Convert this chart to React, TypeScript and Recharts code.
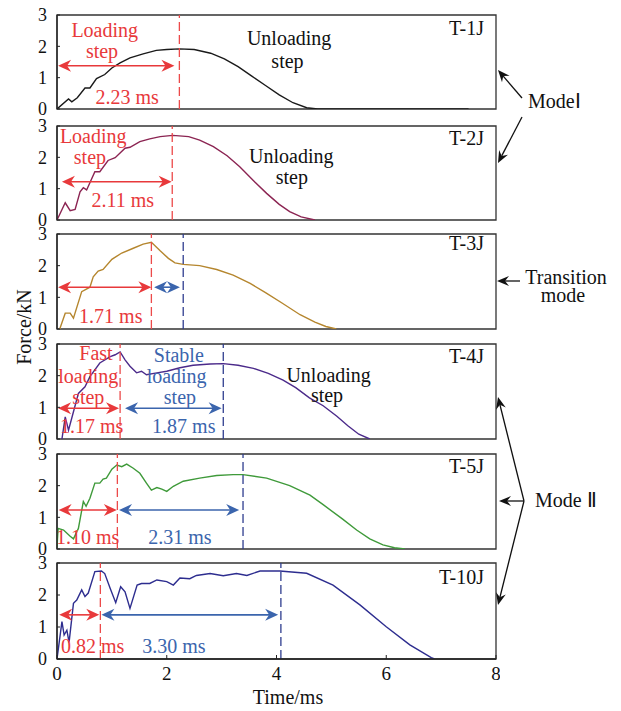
import React from "react";
import { LineChart, Line, XAxis, YAxis, ReferenceLine, ReferenceDot, ReferenceArea } from "recharts";

const FONT = '"Liberation Serif", "Times New Roman", serif';
const RED = "#e8393b";
const RED_DASH = "#ec4a4a";
const BLUE = "#3b65ad";
const NAVY = "#2f3d8f";
const INK = "#111";

const xTicks = [0, 2, 4, 6, 8];
const yTicks = [0, 1, 2, 3];

// T-1J
const timeT1J = [0, 0.21, 0.27, 0.37, 0.51, 0.6, 0.72, 0.87, 1.0, 1.15, 1.33, 1.57, 1.81, 2.0, 2.23, 2.5, 2.8, 3.05, 3.3, 3.55, 3.8, 4.05, 4.3, 4.55, 4.75, 5.5, 6.5, 7.5];
const forceT1J = [0, 0.32, 0.23, 0.36, 0.67, 0.67, 0.97, 1.1, 1.31, 1.47, 1.63, 1.76, 1.87, 1.9, 1.92, 1.9, 1.78, 1.6, 1.35, 1.05, 0.75, 0.45, 0.2, 0.04, 0, 0, 0, 0];

// T-2J
const timeT2J = [0, 0.15, 0.24, 0.33, 0.42, 0.48, 0.54, 0.69, 0.78, 0.93, 1.06, 1.24, 1.33, 1.51, 1.69, 1.88, 2.11, 2.4, 2.6, 2.85, 3.1, 3.33, 3.6, 3.82, 4.05, 4.24, 4.45, 4.7];
const forceT2J = [0, 0.55, 0.3, 0.34, 0.9, 1.03, 0.96, 1.54, 1.54, 1.9, 1.99, 2.29, 2.32, 2.5, 2.59, 2.66, 2.7, 2.66, 2.55, 2.34, 2.05, 1.7, 1.22, 0.85, 0.5, 0.27, 0.1, 0];

// T-3J
const timeT3J = [0.05, 0.15, 0.24, 0.3, 0.45, 0.6, 0.66, 0.75, 0.84, 1.0, 1.18, 1.39, 1.57, 1.72, 1.88, 2.03, 2.15, 2.3, 2.6, 2.91, 3.21, 3.52, 3.8, 4.1, 4.43, 4.7, 4.9, 5.09];
const forceT3J = [0, 0.5, 0.5, 0.34, 1.18, 1.32, 1.65, 1.83, 1.88, 2.2, 2.4, 2.55, 2.68, 2.74, 2.47, 2.23, 2.09, 2.04, 2.0, 1.88, 1.7, 1.44, 1.15, 0.82, 0.45, 0.22, 0.08, 0];

// T-4J
const timeT4J = [0.09, 0.15, 0.21, 0.3, 0.39, 0.51, 0.6, 0.78, 0.97, 1.06, 1.15, 1.24, 1.33, 1.45, 1.54, 1.63, 1.82, 2.0, 2.24, 2.48, 2.79, 3.03, 3.3, 3.58, 3.85, 4.12, 4.35, 4.6, 4.85, 5.1, 5.3, 5.5, 5.7];
const forceT4J = [0, 0.7, 0.28, 0.86, 1.44, 1.65, 1.97, 2.4, 2.6, 2.66, 2.75, 2.5, 2.3, 2.09, 2.14, 2.03, 2.09, 2.14, 2.25, 2.33, 2.37, 2.38, 2.33, 2.23, 2.07, 1.86, 1.62, 1.3, 1.05, 0.72, 0.42, 0.15, 0];

// T-5J
const timeT5J = [0, 0.02, 0.12, 0.24, 0.3, 0.39, 0.48, 0.53, 0.6, 0.69, 0.78, 0.84, 0.9, 1.0, 1.09, 1.18, 1.27, 1.39, 1.51, 1.63, 1.72, 1.82, 1.91, 2.0, 2.12, 2.3, 2.6, 2.91, 3.21, 3.39, 3.82, 4.24, 4.61, 4.85, 5.2, 5.46, 5.7, 5.94, 6.15, 6.34];
const forceT5J = [0.05, 0.65, 0.6, 0.4, 0.32, 0.65, 1.5, 1.35, 1.6, 2.08, 2.08, 2.21, 2.24, 2.52, 2.65, 2.6, 2.68, 2.55, 2.39, 2.08, 1.86, 1.94, 1.89, 1.82, 1.98, 2.14, 2.24, 2.32, 2.35, 2.35, 2.24, 2.0, 1.7, 1.4, 0.95, 0.6, 0.32, 0.13, 0.04, 0];

// T-10J
const timeT10J = [0, 0.09, 0.13, 0.18, 0.22, 0.3, 0.36, 0.45, 0.51, 0.57, 0.69, 0.81, 0.87, 0.97, 1.07, 1.16, 1.24, 1.33, 1.46, 1.54, 1.69, 1.82, 2.0, 2.12, 2.24, 2.42, 2.54, 2.79, 3.03, 3.27, 3.46, 3.7, 4.06, 4.55, 5.03, 5.52, 6.0, 6.43, 6.82, 6.88];
const forceT10J = [0, 1.17, 0.75, 0.9, 0.52, 1.74, 1.84, 2.16, 1.95, 2.06, 2.73, 2.75, 2.67, 2.2, 1.76, 2.26, 2.1, 1.58, 2.31, 2.36, 2.36, 2.47, 2.42, 2.31, 2.53, 2.51, 2.61, 2.67, 2.6, 2.67, 2.61, 2.75, 2.75, 2.68, 2.31, 1.69, 1.01, 0.44, 0.04, 0];

type Note = { t: number; f: number; text: string; color: string; anchor?: "start" | "middle" | "end" };
type Arrow = { from: number; to: number; f: number; color: string };
type Dash = { t: number; color: string };

const panels: {
  name: string; color: string; time: number[]; force: number[]; top: number; bottom: number;
  dashes: Dash[]; arrows: Arrow[]; notes: Note[];
}[] = [
  {
    name: "T-1J", color: "#1a1a1a", time: timeT1J, force: forceT1J, top: 15, bottom: 109,
    dashes: [{ t: 2.23, color: RED_DASH }],
    arrows: [{ from: 0.02, to: 2.14, f: 1.38, color: RED }],
    notes: [
      { t: 0.87, f: 2.31, text: "Loading", color: RED },
      { t: 0.82, f: 1.63, text: "step", color: RED },
      { t: 1.28, f: 0.17, text: "2.23 ms", color: RED },
      { t: 4.23, f: 2.03, text: "Unloading", color: INK },
      { t: 4.2, f: 1.31, text: "step", color: INK },
      { t: 7.78, f: 2.37, text: "T-1J", color: INK, anchor: "end" },
    ],
  },
  {
    name: "T-2J", color: "#8b2452", time: timeT2J, force: forceT2J, top: 126, bottom: 220,
    dashes: [{ t: 2.1, color: RED_DASH }],
    arrows: [{ from: 0.09, to: 2.09, f: 1.22, color: RED }],
    notes: [
      { t: 0.66, f: 2.47, text: "Loading", color: RED },
      { t: 0.6, f: 1.79, text: "step", color: RED },
      { t: 1.2, f: 0.41, text: "2.11 ms", color: RED },
      { t: 4.27, f: 1.81, text: "Unloading", color: INK },
      { t: 4.28, f: 1.14, text: "step", color: INK },
      { t: 7.78, f: 2.4, text: "T-2J", color: INK, anchor: "end" },
    ],
  },
  {
    name: "T-3J", color: "#b5862e", time: timeT3J, force: forceT3J, top: 234, bottom: 329,
    dashes: [{ t: 1.72, color: RED_DASH }, { t: 2.3, color: NAVY }],
    arrows: [
      { from: 0.02, to: 1.72, f: 1.32, color: RED },
      { from: 1.77, to: 2.24, f: 1.32, color: BLUE },
    ],
    notes: [
      { t: 0.98, f: 0.18, text: "1.71 ms", color: RED },
      { t: 7.78, f: 2.49, text: "T-3J", color: INK, anchor: "end" },
    ],
  },
  {
    name: "T-4J", color: "#4b2a8a", time: timeT4J, force: forceT4J, top: 344, bottom: 439,
    dashes: [{ t: 1.15, color: RED_DASH }, { t: 3.03, color: NAVY }],
    arrows: [
      { from: 0.02, to: 1.13, f: 0.97, color: RED },
      { from: 1.24, to: 3.0, f: 0.97, color: BLUE },
    ],
    notes: [
      { t: 0.71, f: 2.49, text: "Fast", color: RED },
      { t: 0.57, f: 1.76, text: "loading", color: RED },
      { t: 0.57, f: 1.12, text: "step", color: RED },
      { t: 0.63, f: 0.18, text: "1.17 ms", color: RED },
      { t: 2.22, f: 2.44, text: "Stable", color: BLUE },
      { t: 2.18, f: 1.76, text: "loading", color: BLUE },
      { t: 2.24, f: 1.1, text: "step", color: BLUE },
      { t: 2.31, f: 0.18, text: "1.87 ms", color: BLUE },
      { t: 4.95, f: 1.81, text: "Unloading", color: INK },
      { t: 4.92, f: 1.18, text: "step", color: INK },
      { t: 7.78, f: 2.39, text: "T-4J", color: INK, anchor: "end" },
    ],
  },
  {
    name: "T-5J", color: "#3f9a3a", time: timeT5J, force: forceT5J, top: 454, bottom: 549,
    dashes: [{ t: 1.1, color: RED_DASH }, { t: 3.39, color: NAVY }],
    arrows: [
      { from: 0.03, to: 1.09, f: 1.23, color: RED },
      { from: 1.13, to: 3.32, f: 1.23, color: BLUE },
    ],
    notes: [
      { t: 0.56, f: 0.15, text: "1.10 ms", color: RED },
      { t: 2.24, f: 0.15, text: "2.31 ms", color: BLUE },
      { t: 7.78, f: 2.39, text: "T-5J", color: INK, anchor: "end" },
    ],
  },
  {
    name: "T-10J", color: "#2d2d8f", time: timeT10J, force: forceT10J, top: 563, bottom: 659,
    dashes: [{ t: 0.79, color: RED_DASH }, { t: 4.08, color: NAVY }],
    arrows: [
      { from: 0.04, to: 0.77, f: 1.38, color: RED },
      { from: 0.81, to: 4.03, f: 1.38, color: BLUE },
    ],
    notes: [
      { t: 0.65, f: 0.18, text: "0.82 ms", color: RED },
      { t: 2.13, f: 0.18, text: "3.30 ms", color: BLUE },
      { t: 7.78, f: 2.33, text: "T-10J", color: INK, anchor: "end" },
    ],
  },
];

const Head = ({ x, y, angle, color, len = 13, half = 6, notch = 9 }: any) => {
  const c = Math.cos(angle);
  const s = Math.sin(angle);
  const bx = x - c * len;
  const by = y - s * len;
  const nx = x - c * notch;
  const ny = y - s * notch;
  const px = -s * half;
  const py = c * half;
  return <path d={`M${x},${y}L${bx + px},${by + py}L${nx},${ny}L${bx - px},${by - py}Z`} fill={color} />;
};

const doubleArrow = (color: string) => (props: any) => {
  const { x1, y1, x2, y2 } = props;
  return (
    <g>
      <line x1={x1 + 8} y1={y1} x2={x2 - 8} y2={y2} stroke={color} strokeWidth={1.6} />
      <Head x={x2} y={y2} angle={0} color={color} />
      <Head x={x1} y={y1} angle={Math.PI} color={color} />
    </g>
  );
};

const noteShape = (n: Note) => (props: any) => (
  <text x={props.cx} y={props.cy} textAnchor={n.anchor || "middle"} fill={n.color} fontSize={20} fontFamily={FONT}>
    {n.text}
  </text>
);

const Pointer = ({ x1, y1, x2, y2 }: { x1: number; y1: number; x2: number; y2: number }) => {
  const a = Math.atan2(y2 - y1, x2 - x1);
  return (
    <g>
      <line x1={x1} y1={y1} x2={x2 - Math.cos(a) * 8} y2={y2 - Math.sin(a) * 8} stroke={INK} strokeWidth={1.3} />
      <Head x={x2} y={y2} angle={a} color={INK} len={12} half={5} notch={8} />
    </g>
  );
};

const CHART_W = 500;
const PAD = 12;

export default function App() {
  return (
    <div style={{ position: "absolute", left: 0, top: 0, width: 621, height: 711, background: "#fff" }}>
      {panels.map((p, i) => {
        const last = i === panels.length - 1;
        const data = p.time.map((t, k) => ({ t, f: p.force[k] }));
        const plotH = p.bottom - p.top;
        const height = plotH + PAD + (last ? 30 : PAD);
        return (
          <div key={p.name} style={{ position: "absolute", left: 0, top: p.top - PAD }}>
            <LineChart width={CHART_W} height={height} data={data} margin={{ top: PAD, right: CHART_W - 496, bottom: last ? 0 : PAD, left: 0 }}>
              <XAxis
                type="number"
                dataKey="t"
                domain={[0, 8]}
                ticks={xTicks}
                interval={0}
                allowDataOverflow
                height={last ? 30 : 0}
                tickSize={-4}
                tickMargin={12}
                axisLine={{ stroke: "#222", strokeWidth: 1.3 }}
                tickLine={{ stroke: "#222" }}
                tickFormatter={last ? (v: number) => String(v) : () => ""}
                tick={{ fill: INK, fontSize: 19, fontFamily: FONT }}
              />
              <YAxis
                type="number"
                domain={[0, 3]}
                ticks={yTicks}
                interval={0}
                allowDataOverflow
                width={57}
                tickSize={-3}
                tickMargin={13}
                axisLine={{ stroke: "#222", strokeWidth: 1.3 }}
                tickLine={{ stroke: "#222" }}
                tick={{ fill: INK, fontSize: 18, fontFamily: FONT }}
              />
              <ReferenceArea x1={0} x2={8} y1={0} y2={3} fill="none" stroke="#333" strokeWidth={1.3} />
              <Line type="linear" dataKey="f" stroke={p.color} strokeWidth={1.4} dot={false} isAnimationActive={false} />
              {p.dashes.map((d, k) => (
                <ReferenceLine key={`d${k}`} x={d.t} stroke={d.color} strokeWidth={1.3} strokeDasharray="9 4" />
              ))}
              {p.arrows.map((a, k) => (
                <ReferenceLine
                  key={`a${k}`}
                  segment={[{ x: a.from, y: a.f }, { x: a.to, y: a.f }]}
                  shape={doubleArrow(a.color)}
                />
              ))}
              {p.notes.map((n, k) => (
                <ReferenceDot key={`n${k}`} x={n.t} y={n.f} r={0} shape={noteShape(n)} />
              ))}
            </LineChart>
          </div>
        );
      })}
      <svg width={621} height={711} style={{ position: "absolute", left: 0, top: 0, pointerEvents: "none" }}>
        <g fontFamily={FONT} fontSize={20} fill={INK}>
          <text transform="translate(31,327) rotate(-90)" textAnchor="middle">Force/kN</text>
          <text x={288} y={704} textAnchor="middle">Time/ms</text>
          <text x={528} y={108}>ModeⅠ</text>
          <text x={566} y={284} textAnchor="middle">Transition</text>
          <text x={563} y={302} textAnchor="middle">mode</text>
          <text x={535} y={507}>Mode Ⅱ</text>
        </g>
        <Pointer x1={522} y1={98} x2={498} y2={70} />
        <Pointer x1={522} y1={117} x2={498} y2={163} />
        <Pointer x1={520} y1={281} x2={497} y2={281} />
        <Pointer x1={524} y1={501} x2={498} y2={397} />
        <Pointer x1={524} y1={501} x2={499} y2={501} />
        <Pointer x1={524} y1={501} x2={498} y2={605} />
      </svg>
    </div>
  );
}
